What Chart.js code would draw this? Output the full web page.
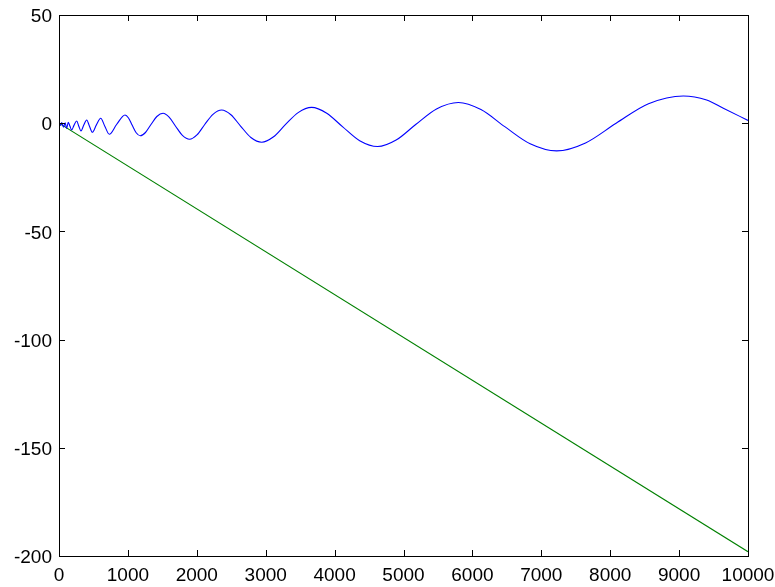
<!DOCTYPE html>
<html lang="en">
<head>
    <meta charset="UTF-8">
    <title>Oscillation and linear trend</title>
    <script src="https://cdn.jsdelivr.net/npm/chart.js"></script>
    <style>
        body {
            margin: 0;
            background: #fff;
        }
        #wrap {
            width: 775px;
            height: 587px;
        }
    </style>
</head>
<body>
    <div id="wrap"><canvas id="plot" width="775" height="587"></canvas></div>

    <script>
        // values
        const waveX = [0, 20, 40, 65, 90, 110, 135, 158, 184, 217, 257, 286, 319, 358, 402, 441, 484, 541, 605, 665, 730, 836,
            958, 1009, 1063, 1120, 1180, 1255, 1335, 1420, 1510, 1598, 1692, 1791, 1895, 2002, 2115, 2235,
            2361, 2495, 2635, 2785, 2942, 3109, 3285, 3471, 3667, 3886, 4118, 4364, 4625, 4893, 5177, 5479,
            5796, 6124, 6470, 6838, 7223, 7642, 8086, 8556, 9061, 9400, 9642, 10000];
        const waveY = [0, -1.0, 0.3, -1.8, 0.2, -2.4, 0.4, -1.3, -3.1, -1.0, 1.0, -1.3, -3.6, -1.0, 1.5, -1.3, -4.2, -0.9, 2.3, -1.4, -5.1, -0.6,
            3.8, 2.4, -1.0, -4.4, -5.8, -4.3, -0.6, 3.1, 4.6, 2.8, -1.4, -5.6, -7.4, -5.4, -0.6, 4.1,
            6.1, 3.9, -1.3, -6.6, -8.8, -6.4, -0.7, 4.9, 7.3, 4.6, -1.7, -8.1, -10.8, -7.8, -0.6, 6.6,
            9.6, 6.3, -1.6, -9.5, -12.8, -9.1, 0, 9.0, 12.6, 10.7, 6.9, 1.3];
        const trendX = [0, 10000];
        const trendY = [0, -198];
        const xTicks = [0, 1000, 2000, 3000, 4000, 5000, 6000, 7000, 8000, 9000, 10000];
        const yTicks = [-200, -150, -100, -50, 0, 50];

        const toPoints = (xs, ys) => xs.map((x, i) => ({ x: x, y: ys[i] }));

        // MATLAB style box with ticks pointing inwards
        const boxPlugin = {
            id: 'box',
            afterDraw(chart) {
                const { ctx, chartArea: a, scales } = chart;
                const len = 6;
                ctx.save();
                ctx.strokeStyle = '#000';
                ctx.lineWidth = 1;
                ctx.beginPath();
                xTicks.forEach((v) => {
                    const px = Math.round(scales.x.getPixelForValue(v)) + 0.5;
                    ctx.moveTo(px, a.bottom);
                    ctx.lineTo(px, a.bottom - len);
                    ctx.moveTo(px, a.top);
                    ctx.lineTo(px, a.top + len);
                });
                yTicks.forEach((v) => {
                    const py = Math.round(scales.y.getPixelForValue(v)) + 0.5;
                    ctx.moveTo(a.left, py);
                    ctx.lineTo(a.left + len, py);
                    ctx.moveTo(a.right, py);
                    ctx.lineTo(a.right - len, py);
                });
                ctx.stroke();
                ctx.strokeRect(Math.round(a.left) + 0.5, Math.round(a.top) + 0.5,
                    Math.round(a.right - a.left), Math.round(a.bottom - a.top));
                ctx.restore();
            },
        };

        const tickFont = { family: '"Liberation Sans", Arial, sans-serif', size: 19 };

        new Chart(document.getElementById('plot'), {
            type: 'line',
            data: {
                datasets: [
                    {
                        data: toPoints(waveX, waveY),
                        borderColor: '#0000ff',
                        borderWidth: 1.1,
                        pointRadius: 0,
                        cubicInterpolationMode: 'monotone',
                    },
                    {
                        data: toPoints(trendX, trendY),
                        borderColor: '#008000',
                        borderWidth: 1.1,
                        pointRadius: 0,
                    },
                ],
            },
            options: {
                responsive: false,
                animation: false,
                layout: { padding: { top: 15, right: 27, left: 0, bottom: 0 } },
                plugins: {
                    legend: { display: false },
                    tooltip: { enabled: false },
                },
                scales: {
                    x: {
                        type: 'linear',
                        min: 0,
                        max: 10000,
                        grid: { display: false, drawTicks: false },
                        border: { display: false },
                        afterBuildTicks: (s) => { s.ticks = xTicks.map((v) => ({ value: v })); },
                        afterFit: (s) => {
                            s.height = 31;
                            s.paddingLeft = 0;
                            s.paddingRight = 27;
                        },
                        ticks: {
                            color: '#000', font: tickFont, padding: 8, maxRotation: 0, autoSkip: false,
                            callback: (v) => String(v),
                        },
                    },
                    y: {
                        min: -200,
                        max: 50,
                        grid: { display: false, drawTicks: false },
                        border: { display: false },
                        afterBuildTicks: (s) => { s.ticks = yTicks.map((v) => ({ value: v })); },
                        afterFit: (s) => {
                            s.width = 59;
                            s.paddingTop = 0;
                            s.paddingBottom = 0;
                        },
                        ticks: { color: '#000', font: tickFont, padding: 7, labelOffset: 2, callback: (v) => String(v) },
                    },
                },
            },
            plugins: [boxPlugin],
        });
    </script>
</body>
</html>
